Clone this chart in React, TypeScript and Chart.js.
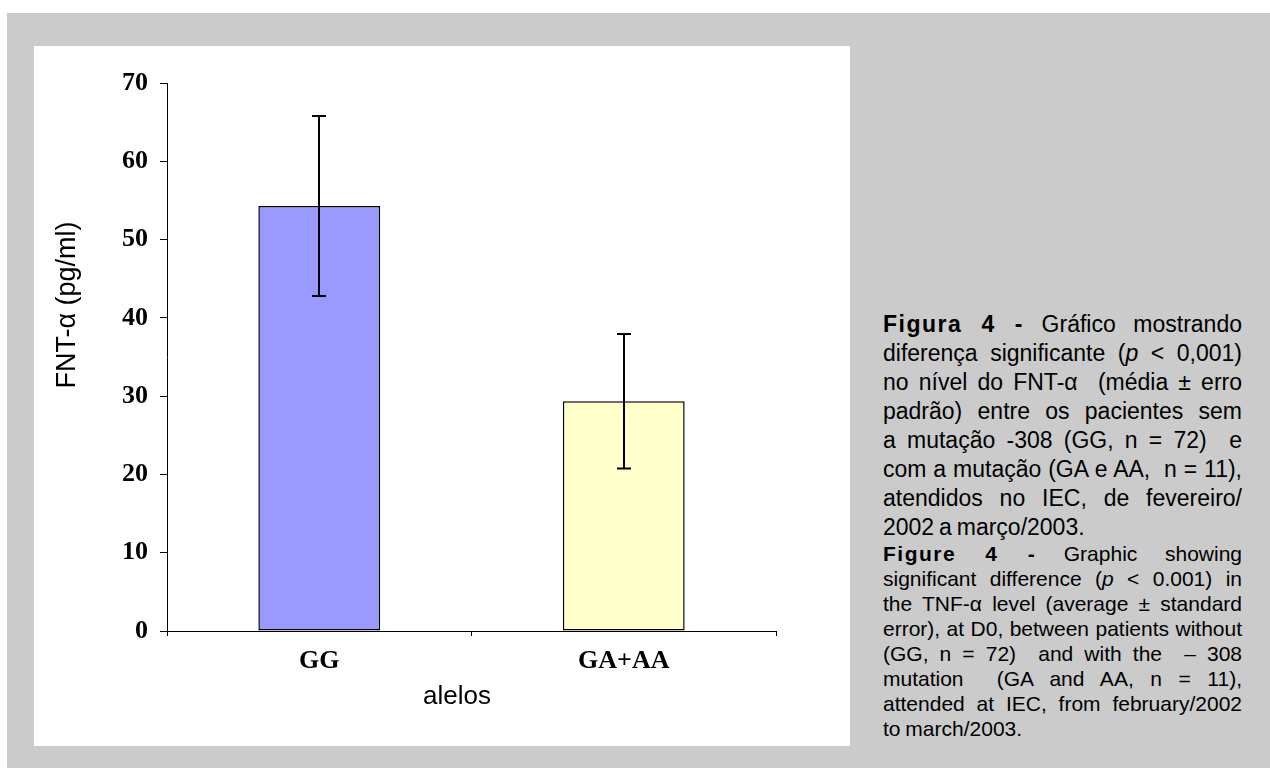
import React, { useEffect, useRef } from 'react';
import { Chart, registerables } from 'chart.js';

Chart.register(...registerables);

const categories = ['GG', 'GA+AA'];
const meanValues = [54.3, 29.35];
const stdErrors = [11.5, 8.6];
const barColors = ['#9999FF', '#FFFFCC'];
const yMin = 0;
const yMax = 70;
const yStep = 10;
const yTitle = 'FNT-α (pg/ml)';
const xTitle = 'alelos';

const errorBarPlugin = {
  id: 'errorBars',
  afterDatasetsDraw(chart: any) {
    const { ctx } = chart;
    const y = chart.scales.y;
    const meta = chart.getDatasetMeta(0);
    ctx.save();
    ctx.strokeStyle = '#000';
    ctx.lineWidth = 2;
    meta.data.forEach((bar: any, i: number) => {
      const x = Math.round(bar.x);
      const top = y.getPixelForValue(meanValues[i] + stdErrors[i]);
      const bot = y.getPixelForValue(meanValues[i] - stdErrors[i]);
      ctx.beginPath();
      ctx.moveTo(x, top);
      ctx.lineTo(x, bot);
      ctx.moveTo(x - 7, top);
      ctx.lineTo(x + 7, top);
      ctx.moveTo(x - 7, bot);
      ctx.lineTo(x + 7, bot);
      ctx.stroke();
    });
    ctx.restore();
  },
};

const axisTitlePlugin = {
  id: 'axisTitles',
  afterDraw(chart: any) {
    const { ctx, chartArea } = chart;
    ctx.save();
    ctx.fillStyle = '#000';
    ctx.textAlign = 'center';
    ctx.textBaseline = 'middle';
    ctx.font = '26px "Liberation Sans", Arial, sans-serif';
    ctx.fillText(xTitle, chartArea.left + 290, chartArea.bottom + 66);
    ctx.font = '27px "Liberation Sans", Arial, sans-serif';
    ctx.translate(chartArea.left - 99, chartArea.top + 222);
    ctx.rotate(-Math.PI / 2);
    ctx.fillText(yTitle, 0, 0);
    ctx.restore();
  },
};

function BarChart() {
  const ref = useRef<HTMLCanvasElement | null>(null);
  useEffect(() => {
    if (!ref.current) return;
    const chart = new Chart(ref.current, {
      type: 'bar',
      data: {
        labels: categories,
        datasets: [
          {
            data: meanValues,
            backgroundColor: barColors,
            borderColor: '#000',
            borderWidth: 1.5,
            borderSkipped: false,
            categoryPercentage: 1,
            barPercentage: 0.4,
          },
        ],
      },
      options: {
        responsive: false,
        animation: false,
        devicePixelRatio: 1,
        layout: { padding: { left: 0, right: 74, top: 37, bottom: 0 } },
        plugins: { legend: { display: false }, tooltip: { enabled: false } },
        scales: {
          x: {
            offset: true,
            afterFit: (s: any) => {
              s.height = 115;
            },
            grid: {
              offset: true,
              drawOnChartArea: false,
              drawTicks: true,
              tickLength: 5,
              color: '#000',
            },
            border: { display: true, color: '#000', width: 1 },
            ticks: {
              color: '#000',
              padding: 10,
              font: { family: '"Liberation Serif", "Times New Roman", serif', size: 26, weight: 'bold' },
            },
          },
          y: {
            min: yMin,
            max: yMax,
            afterFit: (s: any) => {
              s.width = 133;
            },
            grid: {
              drawOnChartArea: false,
              drawTicks: true,
              tickLength: 7,
              color: '#000',
            },
            border: { display: true, color: '#000', width: 1 },
            ticks: {
              stepSize: yStep,
              color: '#000',
              padding: 12,
              font: { family: '"Liberation Serif", "Times New Roman", serif', size: 26, weight: 'bold' },
            },
          },
        },
      },
      plugins: [errorBarPlugin, axisTitlePlugin],
    } as any);
    return () => chart.destroy();
  }, []);
  return (
    <canvas
      ref={ref}
      width={816}
      height={700}
      style={{ position: 'absolute', left: 34, top: 46, width: 816, height: 700, display: 'block' }}
    />
  );
}

const lineStyle: React.CSSProperties = {
  textAlign: 'justify',
  textAlignLast: 'justify' as any,
  whiteSpace: 'nowrap',
};
const lastLine: React.CSSProperties = { textAlign: 'left', whiteSpace: 'nowrap' };

export default function App() {
  const ptStyle: React.CSSProperties = {
    position: 'absolute',
    left: 883,
    top: 310,
    width: 359,
    fontFamily: '"Liberation Sans", Arial, sans-serif',
    fontSize: 23,
    wordSpacing: -1.5,
    lineHeight: '29px',
    color: '#000',
  };
  const enStyle: React.CSSProperties = {
    position: 'absolute',
    left: 883,
    top: 541,
    width: 359,
    fontFamily: '"Liberation Sans", Arial, sans-serif',
    fontSize: 21,
    wordSpacing: -1,
    lineHeight: '25px',
    color: '#000',
  };
  const bold: React.CSSProperties = { fontWeight: 'bold', letterSpacing: 1.5 };
  return (
    <div style={{ position: 'fixed', left: 0, top: 0, width: 1270, height: 769, background: '#fff', overflow: 'hidden' }}>
      <div style={{ position: 'absolute', left: 7, top: 13, width: 1263, height: 755, background: '#CBCBCB' }} />
      <div style={{ position: 'absolute', left: 34, top: 46, width: 816, height: 700, background: '#fff' }} />
      <BarChart />
      <div style={ptStyle}>
        <div style={lineStyle}>
          <span style={bold}>Figura 4 -</span> Gráfico mostrando
        </div>
        <div style={lineStyle}>
          diferença significante (<i>p</i> &lt; 0,001)
        </div>
        <div style={lineStyle}>no nível do FNT-α &nbsp;(média ± erro</div>
        <div style={lineStyle}>padrão) entre os pacientes sem</div>
        <div style={lineStyle}>a mutação -308 (GG, n = 72) &nbsp;e</div>
        <div style={lineStyle}>com a mutação (GA e AA, &nbsp;n = 11),</div>
        <div style={lineStyle}>atendidos no IEC, de fevereiro/</div>
        <div style={lastLine}>2002 a março/2003.</div>
      </div>
      <div style={enStyle}>
        <div style={lineStyle}>
          <span style={bold}>Figure 4 -</span> Graphic showing
        </div>
        <div style={lineStyle}>
          significant difference (<i>p</i> &lt; 0.001) in
        </div>
        <div style={lineStyle}>the TNF-α level (average ± standard</div>
        <div style={lineStyle}>error), at D0, between patients without</div>
        <div style={lineStyle}>(GG, n = 72) &nbsp;and with the &nbsp;– 308</div>
        <div style={lineStyle}>mutation &nbsp;(GA and AA, n = 11),</div>
        <div style={lineStyle}>attended at IEC, from february/2002</div>
        <div style={lastLine}>to march/2003.</div>
      </div>
    </div>
  );
}
